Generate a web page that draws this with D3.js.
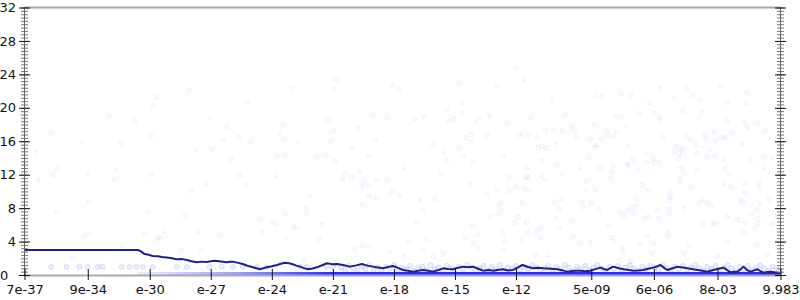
<!DOCTYPE html>
<html>
<head>
<meta charset="utf-8">
<script src="https://cdn.jsdelivr.net/npm/d3@7"></script>
<style>
body { margin: 0; background: #fff; }
svg { display: block; font-family: "DejaVu Sans", sans-serif; }
</style>
</head>
<body>
<svg width="800" height="300"></svg>
<script>
// x axis: log scale, tick values and their printed labels
var xTickVals = [7e-37, 9e-34, 1e-30, 1e-27, 1e-24, 1e-21, 1e-18, 1e-15, 1e-12, 5e-9, 6e-6, 8e-3, 9.983];
var xTickLabels = ["7e-37", "9e-34", "e-30", "e-27", "e-24", "e-21", "e-18", "e-15", "e-12", "5e-09", "6e-06", "8e-03", "9.983"];
var yTicks = [0, 4, 8, 12, 16, 20, 24, 28, 32];

// running line (x as log10 exponent)
var lineExp = [-36.15, -30.59, -30.45, -30.25, -30.05, -29.85, -29.6, -29.4, -29.17, -28.9, -28.67, -28.4, -28.18, -27.95, -27.69,
  -27.45, -27.2, -27.0, -26.8, -26.5, -26.21, -26.05, -25.92, -25.65, -25.43, -25.2, -24.93, -24.75, -24.59, -24.42, -24.25,
  -24.0, -23.75, -23.55, -23.36, -23.15, -22.97, -22.8, -22.62, -22.42, -22.23, -22.0, -21.78, -21.5, -21.29, -21.05, -20.8,
  -20.5, -20.16, -19.85, -19.57, -19.3, -19.03, -18.78, -18.53, -18.3, -18.04, -17.8, -17.55, -17.3, -17.06, -16.8, -16.57,
  -16.3, -16.08, -15.8, -15.58, -15.35, -15.09, -14.85, -14.6, -14.35, -14.11, -13.85, -13.62, -13.35, -13.12, -12.85, -12.63,
  -12.4, -12.14, -11.9, -11.69, -11.4, -11.16, -10.9, -10.66, -10.3, -9.97, -9.7, -9.48, -9.15, -8.84, -8.6, -8.35, -8.1,
  -7.85, -7.68, -7.51, -7.35, -7.22, -6.95, -6.72, -6.45, -6.23, -6.0, -5.74, -5.5, -5.25, -5.05, -4.9, -4.72, -4.56, -4.3,
  -4.07, -3.8, -3.57, -3.3, -3.08, -2.85, -2.59, -2.45, -2.3, -2.05, -1.8, -1.6, -1.46, -1.25, -1.11, -0.95, -0.82, -0.65,
  -0.47, -0.3, -0.13, 0.02, 0.17, 0.35, 0.51, 0.7, 0.86, 1.0];
var lineVal = [3.0, 3.0, 2.85, 2.5, 2.42, 2.27, 2.25, 2.15, 2.1, 2.0, 1.87, 1.9, 1.8, 1.65, 1.52,
  1.6, 1.55, 1.65, 1.71, 1.62, 1.52, 1.58, 1.6, 1.45, 1.32, 1.1, 0.92, 0.8, 0.68, 0.8, 0.92,
  1.05, 1.2, 1.35, 1.47, 1.4, 1.28, 1.12, 1.0, 0.82, 0.68, 0.78, 0.92, 1.2, 1.4, 1.3, 1.32,
  1.2, 1.0, 1.15, 1.32, 1.12, 1.0, 0.9, 0.8, 0.95, 1.08, 0.85, 0.6, 0.5, 0.4, 0.5, 0.6,
  0.52, 0.4, 0.6, 0.8, 0.72, 0.68, 0.88, 1.0, 0.92, 1.0, 0.75, 0.52, 0.6, 0.52, 0.62, 0.68,
  0.55, 0.6, 0.9, 1.2, 0.95, 0.8, 0.88, 0.8, 0.75, 0.68, 0.55, 0.4, 0.5, 0.52, 0.45, 0.5, 0.7,
  0.88, 0.72, 0.6, 0.85, 1.0, 0.8, 0.68, 0.6, 0.52, 0.55, 0.6, 0.75, 0.88, 1.05, 1.2, 0.85, 0.6, 0.8,
  1.0, 0.9, 0.8, 0.7, 0.6, 0.5, 0.4, 0.5, 0.6, 0.75, 0.88, 0.55, 0.32, 0.38, 0.4, 0.7, 1.0, 0.6,
  0.4, 0.55, 0.68, 0.45, 0.28, 0.35, 0.4, 0.32, 0.28, 0.2];

// scattered samples [log10 x, value]
var samples = [
  [-35.55, 14.68], [-35.48, 11.33], [-34.84, 17.02], [-34.73, 11.96], [-34.55, 12.68], [-34.57, 7.45], [-33.34, 15.88], [-33.05, 12.17],
  [-32.97, 8.73], [-33.2, 4.58], [-33.04, 4.99], [-31.99, 19.06], [-31.43, 15.76], [-31.64, 12.56], [-31.74, 11.45], [-30.73, 18.39],
  [-29.92, 16.63], [-29.81, 20.22], [-29.65, 21.29], [-29.92, 12.0], [-30.1, 7.54], [-30.26, 4.9], [-29.28, 5.3], [-28.08, 22.1],
  [-27.05, 18.78], [-27.75, 14.95], [-26.92, 15.04], [-26.2, 17.74], [-26.38, 16.19], [-25.64, 16.47], [-25.2, 20.7], [-25.02, 15.95],
  [-26.0, 13.88], [-25.59, 11.96], [-25.28, 10.68], [-27.28, 10.92], [-27.94, 10.05], [-28.28, 7.09], [-27.62, 5.18], [-26.54, 4.79],
  [-24.6, 6.66], [-24.48, 5.06], [-23.98, 6.3], [-23.8, 6.14], [-23.36, 7.33], [-22.98, 22.22], [-23.46, 17.98], [-23.62, 16.99],
  [-23.41, 16.23], [-23.74, 14.2], [-23.35, 14.36], [-23.82, 11.96], [-22.95, 5.78], [-22.71, 15.88],
  [-20.85, 23.33], [-20.96, 22.25], [-18.08, 22.65], [-17.78, 22.17], [-14.78, 23.0], [-12.91, 22.61], [-11.98, 24.73], [-11.63, 23.36],
  [-21.23, 18.51], [-20.96, 17.23], [-21.1, 15.99], [-20.06, 15.23], [-21.78, 14.15], [-21.34, 14.32], [-20.9, 13.6], [-19.8, 17.55],
  [-19.03, 19.14], [-18.32, 18.78], [-18.93, 16.19], [-19.22, 14.27], [-16.99, 18.7], [-16.52, 18.99], [-17.54, 12.84], [-20.41, 12.08],
  [-20.08, 11.72], [-20.52, 11.45], [-19.7, 12.41], [-19.49, 11.09], [-18.85, 11.37], [-18.32, 11.4], [-16.08, 15.64], [-15.55, 14.8],
  [-15.4, 13.72], [-15.67, 12.2], [-15.42, 19.78], [-15.32, 18.42], [-15.06, 18.66], [-14.68, 19.3], [-14.61, 20.49], [-14.47, 16.43],
  [-14.19, 16.78], [-14.21, 15.88], [-14.78, 15.23], [-14.63, 14.27], [-14.1, 13.43], [-14.3, 10.85], [-13.96, 18.27], [-13.83, 18.82],
  [-13.28, 18.99], [-13.42, 16.75], [-12.42, 18.18], [-12.63, 14.15], [-11.86, 16.78], [-11.71, 16.87], [-11.4, 16.78], [-11.27, 18.78],
  [-10.96, 16.39], [-10.9, 15.28], [-10.71, 15.43], [-10.53, 15.19], [-10.55, 17.35], [-10.76, 13.67], [-11.48, 12.84], [-12.34, 11.76],
  [-11.45, 11.72], [-10.75, 11.96], [-10.56, 11.37], [-12.0, 10.56],
  [-10.23, 20.85], [-9.59, 19.18], [-8.1, 21.53], [-7.79, 21.33], [-6.84, 21.62], [-6.35, 21.53], [-4.94, 22.29], [-4.23, 21.17],
  [-3.61, 22.34], [-3.3, 21.53], [-2.94, 20.97], [-1.94, 22.65], [-1.61, 20.61], [-0.67, 21.81], [-0.67, 20.58], [-5.43, 20.61],
  [-5.94, 19.34], [-5.24, 19.3], [-4.94, 18.82], [-4.95, 18.46], [-3.8, 19.66], [-2.87, 19.38], [-3.0, 18.75], [-1.62, 18.46],
  [-0.77, 18.27], [-0.62, 17.62], [-0.1, 18.15], [0.26, 17.26], [-10.14, 17.35], [-9.74, 17.23], [-9.27, 17.82], [-9.15, 17.38],
  [-9.02, 16.47], [-8.35, 16.23], [-8.15, 17.98], [-7.81, 16.31], [-7.53, 17.26], [-7.5, 16.75], [-7.22, 16.59], [-7.02, 17.14],
  [-7.09, 18.99], [-6.81, 18.9], [-6.61, 17.82], [-6.49, 15.43], [-8.07, 15.55], [-8.09, 15.23], [-10.06, 15.59], [-8.43, 14.0],
  [-8.88, 12.92], [-9.99, 13.12], [-9.74, 12.17], [-7.86, 12.76], [-7.23, 13.0], [-6.56, 13.24], [-6.45, 13.16], [-6.25, 13.88],
  [-5.63, 14.51], [-5.59, 13.43], [-5.26, 13.96], [-5.23, 13.43], [-4.97, 13.52], [-4.79, 16.47], [-4.13, 15.35], [-3.97, 15.23],
  [-3.77, 15.07], [-4.0, 14.6], [-4.26, 14.71], [-3.82, 14.56], [-3.66, 16.71], [-3.44, 16.19], [-3.17, 15.52], [-3.1, 14.56],
  [-2.72, 16.71], [-2.66, 16.19], [-2.46, 14.99], [-2.26, 17.11], [-2.21, 16.07], [-2.61, 14.12], [-2.25, 14.2], [-1.89, 16.43],
  [-1.74, 16.39], [-1.77, 13.88], [-1.38, 16.99], [-0.92, 15.67], [-0.47, 13.72], [0.17, 14.15], [0.59, 14.0], [0.21, 12.84],
  [-4.0, 13.91], [-3.84, 12.8], [-3.74, 12.05], [-3.97, 11.64], [-3.95, 11.16], [-3.1, 12.44], [-3.38, 10.56], [-1.72, 12.76],
  [-1.52, 12.12], [-1.79, 10.92], [-1.44, 10.56], [-0.75, 10.89], [-0.74, 9.89], [-0.07, 11.01], [-0.03, 10.37], [0.44, 9.06],
  [0.03, 8.49], [-0.16, 7.81], [-0.47, 7.38], [-0.1, 6.74], [-0.11, 6.14], [0.62, 6.1], [0.81, 6.9], [-0.23, 5.59],
  [-0.72, 6.26], [-1.1, 6.62], [-1.64, 6.9], [-0.97, 8.85], [-0.85, 8.73], [-2.35, 6.14], [-2.2, 6.18], [-2.85, 8.97],
  [-2.59, 8.65], [-2.39, 8.25], [-2.99, 8.58], [-2.82, 6.07], [-3.71, 7.93], [-4.48, 7.9], [-4.43, 7.33], [-4.4, 8.94],
  [-4.45, 9.33], [-4.41, 9.93], [-5.09, 7.69], [-5.0, 6.74], [-5.45, 7.09], [-5.69, 6.78], [-5.51, 10.05], [-5.81, 10.73],
  [-6.09, 9.18], [-6.1, 8.25], [-6.35, 8.05], [-6.54, 7.69], [-6.86, 7.54], [-6.71, 7.06], [-6.22, 7.45], [-4.55, 5.06],
  [-4.5, 4.58], [-5.54, 4.67], [-7.43, 5.9], [-7.28, 4.46], [-7.95, 7.78], [-8.33, 8.58], [-8.77, 8.73], [-8.69, 8.13],
  [-8.55, 10.13], [-8.1, 10.2], [-8.56, 11.21], [-7.33, 11.6], [-7.27, 12.29], [-6.0, 12.48], [-9.86, 7.86], [-9.81, 8.94],
  [-10.12, 8.65], [-9.25, 6.5], [-9.87, 5.54], [-10.02, 6.78], [-10.77, 5.66], [-10.97, 5.35], [-11.48, 6.26], [-11.46, 5.06],
  [-11.89, 6.9], [-12.09, 6.26], [-11.7, 8.58], [-12.73, 8.61], [-12.73, 7.81], [-12.65, 4.99], [-12.34, 10.05], [-11.58, 10.29],
  [-11.37, 10.17], [-11.44, 11.69],
  [-22.14, 9.45], [-22.34, 7.93], [-22.26, 7.33], [-22.78, 5.66], [-21.54, 5.95], [-23.32, 4.39], [-21.67, 4.31], [-19.55, 8.41],
  [-19.24, 9.45], [-18.85, 9.21], [-18.21, 9.69], [-18.04, 10.17], [-17.7, 9.53], [-16.73, 8.97], [-15.98, 9.13], [-16.57, 7.69],
  [-16.86, 6.34], [-16.39, 4.31], [-17.29, 3.95], [-14.14, 5.86], [-14.49, 4.55], [-13.85, 4.79], [-13.27, 6.9], [-13.45, 9.65],
  [-12.94, 10.29], [-12.88, 7.26], [-12.83, 8.37], [-12.58, 3.98], [-11.73, 4.15], [-10.8, 4.55], [-19.55, 10.56], [-19.21, 10.56],
  [-33.78, 2.0], [-31.4, 3.27], [-29.6, 4.39], [-29.45, 4.39], [-28.44, 2.91], [-27.45, 2.99], [-22.41, 1.88],
  [-19.91, 3.19], [-19.58, 3.51], [-19.26, 3.39], [-18.19, 2.79], [-16.55, 2.99], [-16.06, 2.19], [-15.57, 2.6], [-17.54, 2.19],
  [-14.09, 3.79], [-13.85, 2.99], [-12.62, 2.99], [-11.05, 2.39], [-10.4, 2.39], [-9.17, 4.58], [-8.84, 3.79],
  [-8.35, 3.87], [-7.2, 3.99], [-6.79, 3.19], [-6.71, 2.79], [-5.89, 3.71], [-5.23, 3.79], [-5.31, 2.6], [-3.76, 2.6],
  [-3.51, 3.59], [-2.11, 2.27], [-1.62, 3.99], [-0.8, 5.18], [-0.15, 3.59], [0.35, 2.39], [-6.38, 1.59], [-6.87, 1.79]
];

// dense band of samples just above zero
var bandExp = [-34.84, -34.1, -33.45, -33.05, -32.55, -32.32, -31.38, -30.99, -30.66, -30.35, -29.85, -28.67, -28.18, -27.05, -26.46,
  -25.92, -25.43, -24.73, -24.25, -22.62, -22.28, -21.29, -20.99,
  -20.6, -20.4, -20.2, -20.0, -19.8, -19.6, -19.4, -19.2, -19.0, -18.8, -18.6, -18.4, -18.2, -18.0, -17.8, -17.6, -17.4, -17.2,
  -17.0, -16.8, -16.6, -16.4, -16.2, -16.0, -15.8, -15.6, -15.4, -15.2, -15.0, -14.8, -14.6, -14.4, -14.2, -14.0, -13.8, -13.6,
  -13.4, -13.2, -13.0, -12.8, -12.6, -12.4, -12.2, -12.0, -11.8, -11.6, -11.4, -11.2, -11.0, -10.8, -10.6, -10.4, -10.2, -10.0,
  -9.8, -9.6, -9.4, -9.2, -9.0, -8.8, -8.6, -8.4, -8.2, -8.0, -7.8, -7.6, -7.4, -7.2, -7.0, -6.8, -6.6, -6.4, -6.2, -6.0,
  -5.8, -5.6, -5.4, -5.2, -5.0, -4.8, -4.6, -4.4, -4.2, -4.0, -3.8, -3.6, -3.4, -3.2, -3.0, -2.8, -2.6, -2.4, -2.2, -2.0,
  -1.8, -1.6, -1.4, -1.2, -1.0, -0.8, -0.6, -0.4, -0.2, 0.0, 0.2, 0.4, 0.6, 0.8, 1.0];
var bandVal = [0.95, 0.95, 1.0, 0.95, 0.95, 1.0, 0.95, 0.95, 1.0, 0.95, 0.95, 1.0, 0.95, 0.95, 1.0,
  0.95, 1.0, 0.95, 0.95, 1.0, 0.95, 1.0, 0.95,
  0.9, 0.6, 1.1, 0.8, 0.5, 1.0, 0.7, 1.2, 0.6, 0.9, 0.5, 1.0, 0.8, 1.2, 0.6, 0.9, 0.7, 1.1,
  0.5, 0.8, 1.0, 0.6, 1.2, 0.7, 0.9, 0.5, 1.1, 0.8, 0.6, 1.0, 0.7, 1.2, 0.9, 0.5, 0.8, 1.1,
  0.6, 1.0, 0.7, 1.2, 0.5, 0.9, 0.8, 1.1, 0.6, 1.0, 0.7, 1.2, 0.9, 0.5, 0.8, 1.1, 0.6, 1.0,
  0.7, 1.2, 0.9, 0.5, 1.0, 0.7, 1.1, 0.6, 0.9, 1.2, 0.8, 0.5, 1.0, 0.7, 1.1, 0.6, 0.9, 1.2, 0.8, 0.5,
  1.0, 0.7, 1.1, 0.9, 0.6, 1.2, 0.8, 0.5, 1.0, 0.7, 1.1, 0.6, 0.9, 1.2, 0.8, 0.5, 1.0, 0.7, 1.1, 0.6,
  0.9, 1.2, 0.8, 0.5, 1.0, 0.7, 1.1, 0.6, 0.9, 1.2, 0.8, 0.5, 1.0, 0.7, 0.9];

// best-so-far floor
var floorExp = [-30.6, -29, -27, -25, -23, -21, -18, -15, -12, -9, -6, -3, 0, 1.0];
var floorVal = [0, 0, 0, 0, 0, 0, 0, 0, 0, 0, 0, 0, 0, 0];

var svg = d3.select('svg');
var pL = 24.5, pR = 780.5, pT = 7.5, pB = 275;

var x = d3.scaleLog().domain([7e-37, 9.983]).range([pL, pR]);
var y = d3.scaleLinear().domain([0, 32]).range([pB, pT]);
var xe = function(e){ return x(Math.pow(10, e)); };

var defs = svg.append('defs');
defs.append('clipPath').attr('id', 'plot')
  .append('rect').attr('x', pL).attr('y', pT).attr('width', pR - pL).attr('height', pB - pT);

var grad = defs.append('linearGradient').attr('id', 'fade')
  .attr('gradientUnits', 'userSpaceOnUse')
  .attr('x1', xe(-30.6)).attr('x2', xe(-21)).attr('y1', 0).attr('y2', 0);
grad.append('stop').attr('offset', 0).attr('stop-color', '#2a2aff').attr('stop-opacity', 0.08);
grad.append('stop').attr('offset', 0.5).attr('stop-color', '#2a2aff').attr('stop-opacity', 0.45);
grad.append('stop').attr('offset', 1).attr('stop-color', '#2a2aff').attr('stop-opacity', 1);

var plot = svg.append('g').attr('clip-path', 'url(#plot)');

plot.selectAll('circle.sample').data(samples).enter().append('circle')
  .attr('class', 'sample')
  .attr('cx', function(d){ return xe(d[0]) })
  .attr('cy', function(d){ return y(d[1]) })
  .attr('r', 2.3)
  .attr('fill', '#0000ff').attr('fill-opacity', 0.02)
  .attr('stroke', '#0000ff').attr('stroke-opacity', 0.05);

plot.selectAll('circle.band').data(bandExp).enter().append('circle')
  .attr('class', 'band')
  .attr('cx', function(d){ return xe(d) })
  .attr('cy', function(d, i){ return y(bandVal[i]) })
  .attr('r', 2.5)
  .attr('fill', '#0000ff').attr('fill-opacity', 0.07)
  .attr('stroke', '#0000ff').attr('stroke-opacity', 0.1);

var floorLine = d3.line()
  .x(function(d){ return xe(d) })
  .y(function(d, i){ return y(floorVal[i]) });
plot.append('path').datum(floorExp)
  .attr('d', floorLine)
  .attr('fill', 'none')
  .attr('stroke', 'url(#fade)')
  .attr('stroke-width', 6);

// gray frame lines top and bottom
svg.append('line').attr('x1', pL).attr('x2', pR).attr('y1', y(32)).attr('y2', y(32))
  .attr('stroke', '#aaa').attr('stroke-width', 2);
svg.append('line').attr('x1', pL).attr('x2', pR).attr('y1', y(0) + 0.5).attr('y2', y(0) + 0.5)
  .attr('stroke', '#aaa').attr('stroke-width', 2);

var runLine = d3.line()
  .x(function(d){ return xe(d) })
  .y(function(d, i){ return y(lineVal[i]) });
svg.append('path').datum(lineExp)
  .attr('d', runLine)
  .attr('fill', 'none')
  .attr('stroke', '#1f1f8c')
  .attr('stroke-width', 2)
  .attr('stroke-linejoin', 'round');

// y axes (left and right) with crossing ticks
var minor = d3.range(0, 32.001, 0.4);
[pL, pR].forEach(function(px, k){
  var g = svg.append('g').attr('transform', 'translate(' + px + ',0)');
  g.append('g').call(d3.axisLeft(y).tickValues(minor).tickSize(3.5).tickFormat(''));
  g.append('g').call(d3.axisRight(y).tickValues(minor).tickSize(3.5).tickFormat(''));
  g.selectAll('.tick line').attr('stroke', '#777');
  var maj = g.append('g').call(d3.axisLeft(y).tickValues(yTicks).tickSize(5.5).tickPadding(3).tickFormat(k === 0 ? d3.format('d') : ''));
  g.append('g').call(d3.axisRight(y).tickValues(yTicks).tickSize(5.5).tickFormat(''))
    .selectAll('.tick line').attr('stroke', '#111');
  maj.selectAll('.tick line').attr('stroke', '#111');
  g.selectAll('.domain').attr('stroke', '#666').attr('stroke-width', 1).attr('d', 'M0,' + y(32) + 'V' + y(0));
  maj.selectAll('text').attr('font-size', 13).attr('font-family', '"DejaVu Sans", sans-serif').attr('fill', '#111');
  if (k === 0) {
    maj.selectAll('.tick').filter(function(d){ return d === 0 })
      .select('text').attr('x', -pL).attr('text-anchor', 'start');
  }
});

// x axis ticks and labels
var xAxis = svg.append('g').attr('transform', 'translate(0,' + (pB - 6) + ')')
  .call(d3.axisBottom(x).tickValues(xTickVals).tickSize(11).tickPadding(5)
    .tickFormat(function(d, i){ return xTickLabels[i] }));
xAxis.select('.domain').remove();
xAxis.selectAll('.tick line').attr('stroke', '#111');
xAxis.selectAll('text').attr('font-size', 13).attr('font-family', '"DejaVu Sans", sans-serif').attr('fill', '#111');
</script>
</body>
</html>
